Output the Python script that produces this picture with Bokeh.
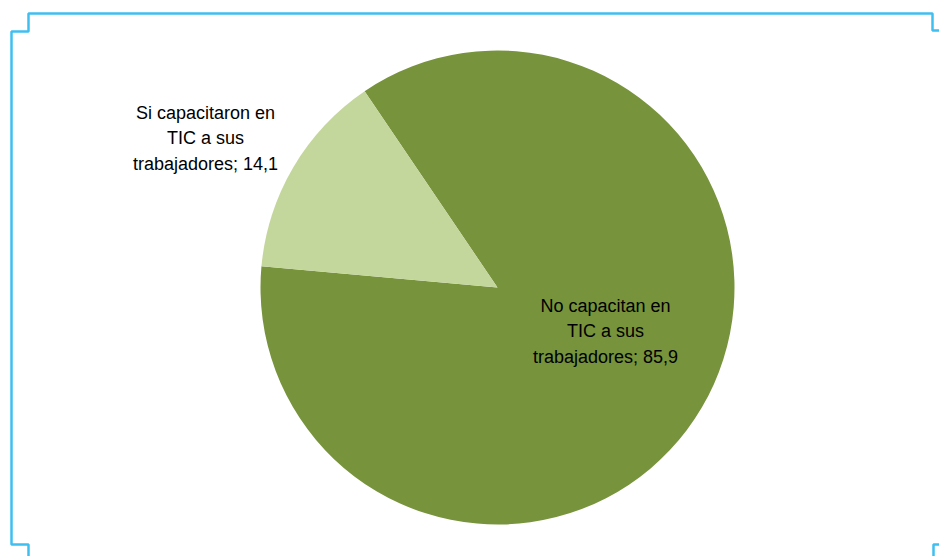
import math
from bokeh.plotting import figure
from bokeh.models import Range1d, ColumnDataSource
from bokeh.core.properties import value
from bokeh.embed import file_html
from bokeh.resources import INLINE

# ---- data ----
categories = ["No capacitan en\nTIC a sus\ntrabajadores", "Si capacitaron en\nTIC a sus\ntrabajadores"]
values = [85.9, 14.1]
colors = ["#77933C", "#C3D69B"]
value_labels = ["85,9", "14,1"]

W, H = 939, 556
p = figure(width=W, height=H, output_backend="svg", toolbar_location=None,
           x_range=Range1d(0, W), y_range=Range1d(0, H), min_border=0)
p.axis.visible = False
p.grid.visible = False
p.outline_line_color = None
p.background_fill_color = "white"
p.border_fill_color = "white"

def Y(y):
    return H - y

# pie geometry
cx, cy, r = 497, Y(287), 237
start0 = math.radians(124.1)
total = sum(values)
starts, ends = [], []
cum = 0.0
for v in values:
    starts.append(start0 - 2 * math.pi * cum / total)
    cum += v
    ends.append(start0 - 2 * math.pi * cum / total)

src = ColumnDataSource(dict(start=starts, end=ends, color=colors))
p.wedge(x=cx, y=cy, radius=r, start_angle="start", end_angle="end",
        direction="clock", fill_color="color", line_color=None, source=src)

# labels
texts = [f"{c}; {v}" for c, v in zip(categories, value_labels)]
lx = [605, 205]
ly = [Y(331), Y(138)]
p.text(x=lx, y=ly, text=texts, text_font=value("Liberation Sans"),
       text_font_size="18px", text_color="#000000", text_align="center",
       text_baseline="middle", text_line_height=1.27)

# blue frame brackets
fc = "#3FBFF0"
fx = [28, 28, 11, 11, 28, 28, 932, 932, 950]
fy = [556, 544, 544, 31, 31, 13, 13, 30, 30]
p.line(x=fx, y=[Y(v) for v in fy], line_color=fc, line_width=2.5)
bx = [950, 933, 933]
by = [544, 544, 560]
p.line(x=bx, y=[Y(v) for v in by], line_color=fc, line_width=2.5)

open("out.html", "w").write(file_html(p, INLINE))
